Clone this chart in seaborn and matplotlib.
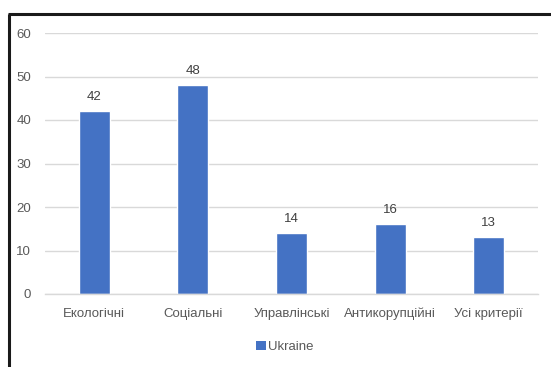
import matplotlib
matplotlib.use("Agg")
import matplotlib.pyplot as plt
from matplotlib.lines import Line2D
from matplotlib.patches import Patch
import seaborn as sns
import pandas as pd

categories = ["Екологічні", "Соціальні", "Управлінські", "Антикорупційні", "Усі критерії"]
values = [42, 48, 14, 16, 13]
series_name = "Ukraine"
yticks = [0, 10, 20, 30, 40, 50, 60]

sns.set_theme(style="white")
plt.rcParams["font.family"] = ["Liberation Sans", "DejaVu Sans"]

BLUE = "#4472C4"
TEXT = "#595959"
GRID = "#D9D9D9"

df = pd.DataFrame({"category": categories, "value": values})

fig = plt.figure(figsize=(5.51, 3.67), dpi=100)
ax = fig.add_axes([45 / 551, 1 - 294 / 367, 493 / 551, (294 - 33) / 367])

sns.barplot(data=df, x="category", y="value", color=BLUE, width=0.315,
            saturation=1, ax=ax)

ax.set_ylim(0, 60)
ax.set_xlim(-0.5, len(categories) - 0.5)
ax.set_yticks(yticks)
ax.yaxis.grid(True, color=GRID, linewidth=1)
ax.set_axisbelow(True)
for s in ["top", "right", "left"]:
    ax.spines[s].set_visible(False)
ax.spines["bottom"].set_color(GRID)
ax.spines["bottom"].set_linewidth(1)
ax.set_xlabel("")
ax.set_ylabel("")
ax.tick_params(axis="both", length=0, colors=TEXT, labelsize=9.5)
ax.tick_params(axis="x", pad=10)
ax.tick_params(axis="y", pad=10)

for i, v in enumerate(values):
    ax.annotate(str(v), (i, v), xytext=(0, 6), textcoords="offset points",
                ha="center", va="bottom", fontsize=9.5, color="#404040")

handle = Patch(facecolor=BLUE, edgecolor="none")
fig.legend([handle], [series_name], loc="center", bbox_to_anchor=(285 / 551, 1 - 347 / 367),
           frameon=False, fontsize=9.5, handlelength=0.7, handleheight=0.7,
           handletextpad=0.2, labelcolor=TEXT)

# dark frame on the top and left edges
fig.add_artist(Line2D([8 / 551, 1.0], [1 - 13.5 / 367] * 2, transform=fig.transFigure,
                      color="#1a1a1a", linewidth=2.2, solid_capstyle="butt"))
fig.add_artist(Line2D([8.5 / 551] * 2, [0, 1 - 13.5 / 367], transform=fig.transFigure,
                      color="#1a1a1a", linewidth=2.2, solid_capstyle="butt"))

fig.savefig("out.png", dpi=100)
